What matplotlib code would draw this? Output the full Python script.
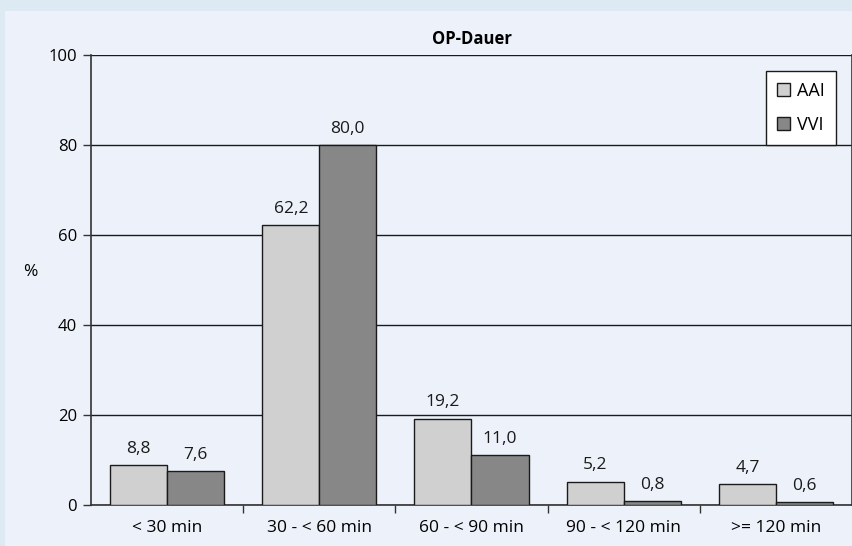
import numpy as np
from matplotlib import pyplot as plt
from matplotlib.patches import Rectangle

categories = ["< 30 min", "30 - < 60 min", "60 - < 90 min", "90 - < 120 min", ">= 120 min"]
aai = [8.8, 62.2, 19.2, 5.2, 4.7]
vvi = [7.6, 80.0, 11.0, 0.8, 0.6]
series_names = ["AAI", "VVI"]
yticks = [0, 20, 40, 60, 80, 100]

plt.rcParams['font.family'] = ['Open Sans', 'DejaVu Sans']

fig = plt.figure(figsize=(8.53, 5.46), dpi=100)
fig.patch.set_facecolor("#dde9f3")
# lighter inner panel
fig.patches.append(Rectangle((5 / 853, 0), 1, 1 - 11 / 546, transform=fig.transFigure,
                             facecolor="#edf2fa", edgecolor="none", zorder=-10))

ax = fig.add_axes([0.1067, 0.0751, 0.8921, 0.8242])
ax.set_facecolor("#edf2fa")

x = np.arange(len(categories))
w = 0.375
b1 = ax.bar(x - w / 2, aai, w, color="#d0d0d0", edgecolor="#1a1a1a", linewidth=1, label=series_names[0], zorder=3)
b2 = ax.bar(x + w / 2, vvi, w, color="#878787", edgecolor="#1a1a1a", linewidth=1, label=series_names[1], zorder=3)

for bars, vals in ((b1, aai), (b2, vvi)):
    for r, v in zip(bars, vals):
        ax.text(r.get_x() + r.get_width() / 2, v + 1.8, f"{v:.1f}".replace(".", ","),
                ha="center", va="bottom", fontsize=12.5, color="#1a1a1a")

ax.set_xlim(-0.5, len(categories) - 0.5)
ax.set_ylim(0, 100)
ax.set_yticks(yticks)
ax.set_yticklabels([str(t) for t in yticks], fontsize=12)
ax.yaxis.grid(True, color="#1a1a1a", linewidth=1)
ax.set_axisbelow(True)

# category labels centred, ticks on category boundaries
ax.set_xticks(x)
ax.set_xticklabels(categories, fontsize=12.5)
ax.tick_params(axis="x", length=0, pad=11)
ax.set_xticks(np.arange(0.5, len(categories) - 0.5, 1), minor=True)
ax.tick_params(axis="x", which="minor", length=6, width=1, color="#333333", direction="out")
ax.tick_params(axis="y", length=6, width=1, color="#333333", pad=4)

for s in ("left", "bottom", "right"):
    ax.spines[s].set_color("#333333")
    ax.spines[s].set_linewidth(1.2)
ax.spines["top"].set_visible(False)

ax.set_title("OP-Dauer", fontsize=12, fontweight="bold", pad=8)
ax.set_ylabel("%", rotation=0, fontsize=12.5, labelpad=0)
ax.yaxis.set_label_coords(-0.08, 0.5)

leg = ax.legend(loc="upper right", bbox_to_anchor=(0.979, 0.965), borderaxespad=0,
                fontsize=13, frameon=True, fancybox=False, edgecolor="#1a1a1a",
                framealpha=1, facecolor="white", handlelength=0.75, handleheight=0.75,
                handletextpad=0.4, labelspacing=0.9, borderpad=0.6)
leg.get_frame().set_linewidth(1)

fig.savefig("out.png", dpi=100, facecolor=fig.get_facecolor())
